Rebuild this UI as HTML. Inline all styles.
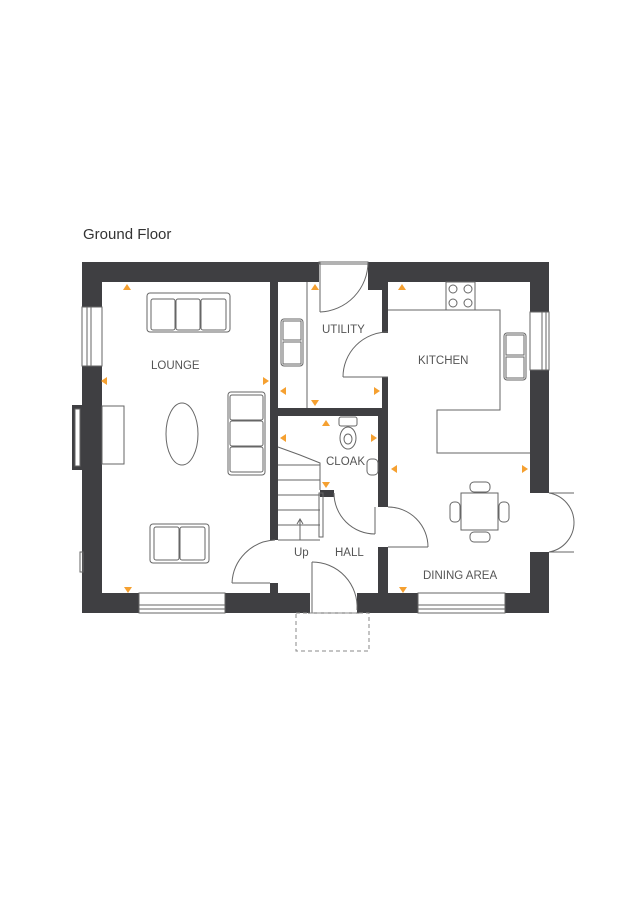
<!DOCTYPE html>
<html><head><style>
html,body{margin:0;padding:0;background:#fff;width:636px;height:900px;overflow:hidden}
svg{display:block}
text{font-family:"Liberation Sans",sans-serif;fill:#555}
</style></head><body>
<svg width="636" height="900" viewBox="0 0 636 900" xmlns="http://www.w3.org/2000/svg">
<text x="83" y="239" font-size="15" style="fill:#333">Ground Floor</text>
<g fill="#3f3f42">
<!-- top wall -->
<rect x="82" y="262" width="237" height="20"/>
<rect x="368" y="262" width="181" height="20"/>
<rect x="368" y="262" width="20" height="28"/>
<!-- left wall -->
<rect x="82" y="262" width="20" height="351"/>
<!-- right wall -->
<rect x="530" y="262" width="19" height="231"/>
<rect x="530" y="552" width="19" height="61"/>
<!-- bottom wall -->
<rect x="82" y="593" width="57" height="20"/>
<rect x="225" y="593" width="85" height="20"/>
<rect x="357" y="593" width="61" height="20"/>
<rect x="505" y="593" width="44" height="20"/>
<!-- interior -->
<rect x="270" y="282" width="8" height="258"/>
<rect x="270" y="583" width="8" height="10"/>
<rect x="278" y="408" width="110" height="8"/>
<rect x="382" y="290" width="6" height="43"/>
<rect x="382" y="377" width="6" height="31"/>
<rect x="378" y="416" width="10" height="91"/>
<rect x="378" y="547" width="10" height="46"/>
<rect x="320" y="490" width="14" height="7"/>
<!-- chimney -->
<rect x="72" y="405" width="12" height="65"/>
</g>
<g fill="none" stroke="#666" stroke-width="1">
<rect x="75" y="409" width="5" height="57" fill="#fff"/>
<!-- left window -->
<rect x="82" y="307" width="20" height="59" fill="#fff"/>
<line x1="87" y1="307" x2="87" y2="366"/><line x1="91" y1="307" x2="91" y2="366"/>
<!-- right window -->
<rect x="530" y="312" width="19" height="58" fill="#fff"/>
<line x1="542" y1="312" x2="542" y2="370"/><line x1="546" y1="312" x2="546" y2="370"/>
<!-- bottom windows -->
<rect x="139" y="593" width="86" height="20" fill="#fff"/>
<line x1="139" y1="605" x2="225" y2="605"/><line x1="139" y1="609" x2="225" y2="609"/>
<rect x="418" y="593" width="87" height="20" fill="#fff"/>
<line x1="418" y1="605" x2="505" y2="605"/><line x1="418" y1="609" x2="505" y2="609"/>
<!-- left wall small window -->
<rect x="80" y="552" width="3" height="20"/>
<!-- lounge furniture -->
<rect x="147" y="293" width="83" height="39" rx="3"/>
<rect x="151" y="299" width="24" height="31" rx="2"/><rect x="176" y="299" width="24" height="31" rx="2"/><rect x="201" y="299" width="25" height="31" rx="2"/>
<rect x="228" y="392" width="37" height="83" rx="3"/>
<rect x="230" y="395" width="33" height="25" rx="2"/><rect x="230" y="421" width="33" height="25" rx="2"/><rect x="230" y="447" width="33" height="25" rx="2"/>
<ellipse cx="182" cy="434" rx="16" ry="31"/>
<rect x="102" y="406" width="22" height="58"/>
<rect x="150" y="524" width="59" height="39" rx="3"/>
<rect x="154" y="527" width="25" height="33" rx="2"/><rect x="180" y="527" width="25" height="33" rx="2"/>
<!-- utility counter -->
<line x1="307" y1="282" x2="307" y2="408"/>
<rect x="281" y="319" width="22" height="47" rx="3"/>
<rect x="283" y="321" width="18" height="19"/>
<rect x="283" y="342" width="18" height="22"/>
<!-- kitchen counters -->
<polyline points="388,310 500,310 500,410 437,410 437,453 530,453"/>
<rect x="446" y="282" width="29" height="28"/>
<circle cx="453" cy="289" r="4"/><circle cx="468" cy="289" r="4"/><circle cx="453" cy="303" r="4"/><circle cx="468" cy="303" r="4"/>
<rect x="504" y="333" width="22" height="47" rx="3"/>
<rect x="506" y="335" width="18" height="20"/><rect x="506" y="357" width="18" height="21"/>
<!-- cloak -->
<rect x="339" y="417" width="18" height="9" rx="2"/>
<ellipse cx="348" cy="438" rx="8" ry="11"/><ellipse cx="348" cy="439" rx="4" ry="5"/>
<rect x="367" y="459" width="11" height="16" rx="4"/>
<!-- stairs -->
<polyline points="278,447 300,455 320,463 320,490"/>
<line x1="278" y1="465" x2="320" y2="465"/><line x1="278" y1="480" x2="320" y2="480"/>
<line x1="278" y1="495" x2="320" y2="495"/><line x1="278" y1="510" x2="320" y2="510"/>
<line x1="278" y1="525" x2="320" y2="525"/><line x1="278" y1="540" x2="320" y2="540"/>
<rect x="319" y="493" width="4" height="44"/>
<line x1="300" y1="520" x2="300" y2="540"/><polyline points="297,524 300,519 303,524"/>
<!-- doors -->
<line x1="320" y1="262" x2="320" y2="312"/><path d="M320,312 A50,50 0 0 0 368,262"/>
<rect x="319" y="262" width="49" height="2"/>
<line x1="343" y1="377" x2="388" y2="377"/><path d="M343,377 A45,45 0 0 1 388,332"/>
<path d="M334,493 A41,41 0 0 0 375,534"/><line x1="375" y1="534" x2="375" y2="507"/>
<line x1="388" y1="547" x2="428" y2="547"/><path d="M388,507 A40,40 0 0 1 428,547"/>
<line x1="232" y1="583" x2="270" y2="583"/><path d="M232,583 A45,45 0 0 1 275,540"/>
<line x1="312" y1="562" x2="312" y2="613"/><path d="M312,562 A45,45 0 0 1 357,610"/>
<line x1="308" y1="613" x2="359" y2="613"/>
<!-- french doors -->
<path d="M549,493 A30,30 0 0 1 574,522"/><path d="M549,552 A30,30 0 0 0 574,522"/>
<line x1="549" y1="493" x2="574" y2="493"/><line x1="549" y1="552" x2="574" y2="552"/>
<!-- dining -->
<rect x="461" y="493" width="37" height="37"/>
<rect x="470" y="482" width="20" height="10" rx="4"/><rect x="470" y="532" width="20" height="10" rx="4"/>
<rect x="450" y="502" width="10" height="20" rx="4"/><rect x="499" y="502" width="10" height="20" rx="4"/>
</g>
<rect x="296" y="613" width="73" height="38" fill="none" stroke="#888" stroke-dasharray="4,3"/>
<g fill="#f5a030">
<path d="M123,290 l4,-6 l4,6z"/><path d="M398,290 l4,-6 l4,6z"/><path d="M311,290 l4,-6 l4,6z"/>
<path d="M107,377 l-6,4 l6,4z"/><path d="M263,377 l6,4 l-6,4z"/>
<path d="M286,387 l-6,4 l6,4z"/><path d="M374,387 l6,4 l-6,4z"/>
<path d="M311,400 l4,6 l4,-6z"/><path d="M322,426 l4,-6 l4,6z"/>
<path d="M286,434 l-6,4 l6,4z"/><path d="M371,434 l6,4 l-6,4z"/>
<path d="M397,465 l-6,4 l6,4z"/><path d="M522,465 l6,4 l-6,4z"/>
<path d="M322,482 l4,6 l4,-6z"/><path d="M124,587 l4,6 l4,-6z"/><path d="M399,587 l4,6 l4,-6z"/>
</g>
<g font-size="11.5">
<text x="151" y="369">LOUNGE</text>
<text x="322" y="333">UTILITY</text>
<text x="418" y="364">KITCHEN</text>
<text x="326" y="465">CLOAK</text>
<text x="294" y="556">Up</text>
<text x="335" y="556">HALL</text>
<text x="423" y="579">DINING AREA</text>
</g>
</svg>
</body></html>
